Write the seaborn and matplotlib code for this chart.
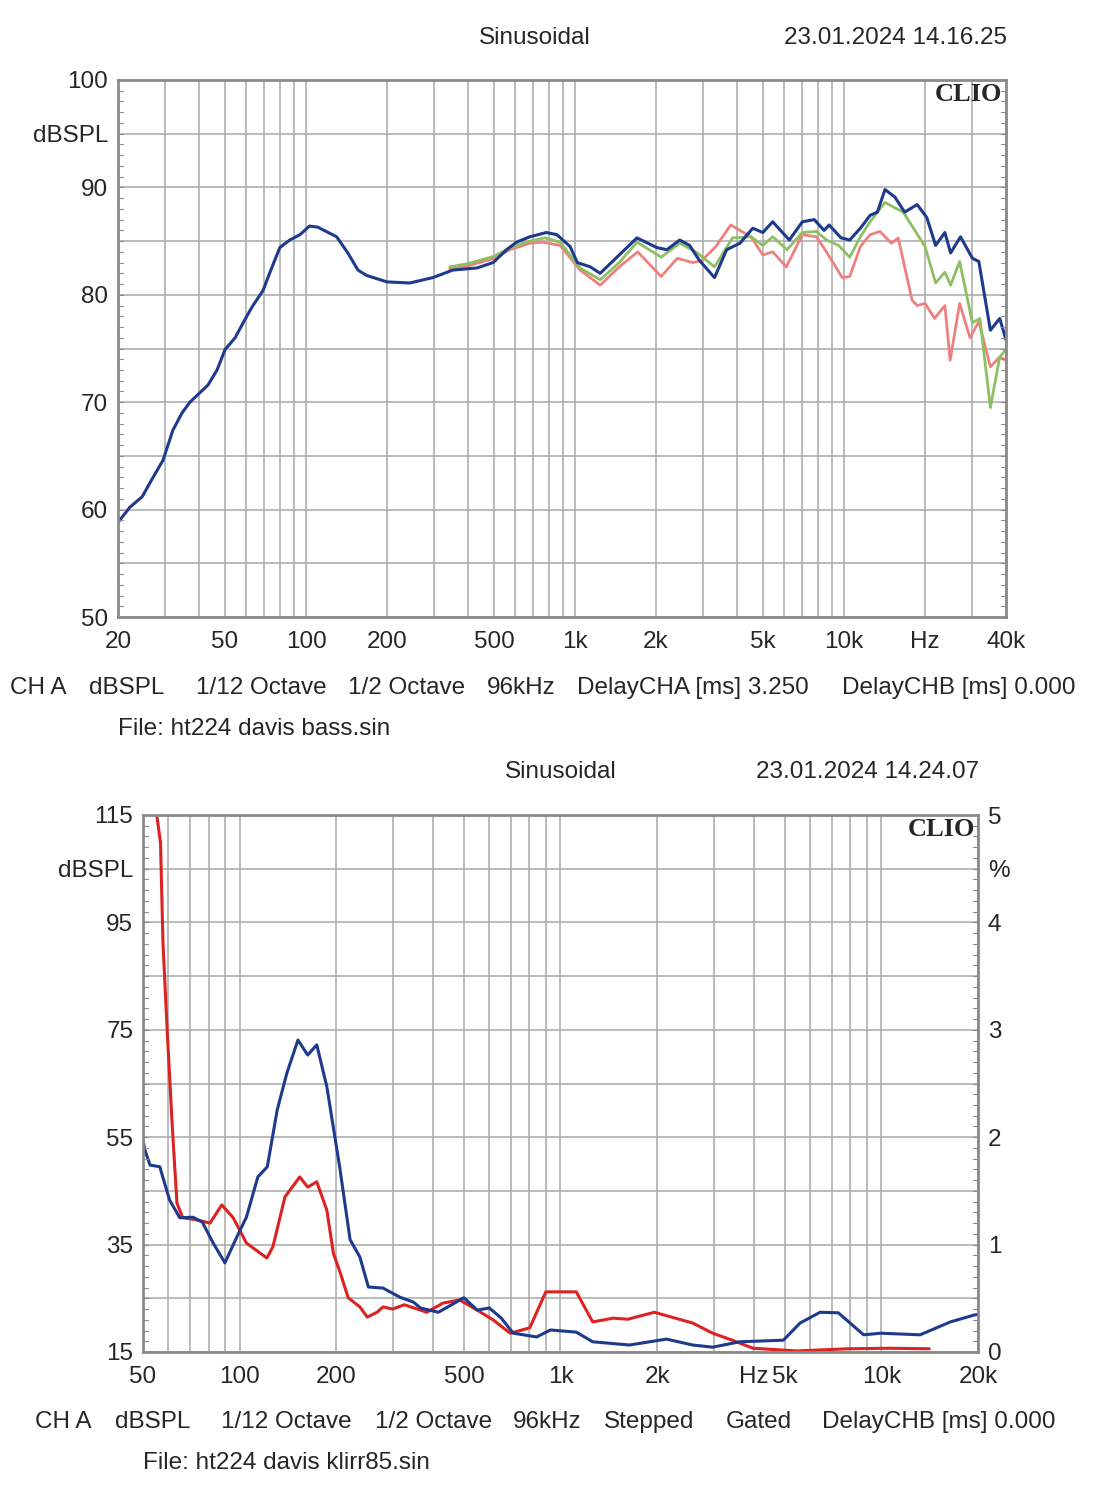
import numpy as np
import pandas as pd
import matplotlib
matplotlib.use("Agg")
import matplotlib.pyplot as plt
import seaborn as sns

# top chart: frequency response (Hz, dBSPL)
top_blue_f = [20, 22.1, 24.6, 27, 29.4, 32, 34.6, 37, 39.6, 43.2, 46.7, 50, 54.5, 58.4, 63.1, 69.2,
              74, 79.9, 87, 95, 103, 110.5, 130, 143, 156, 168, 200, 243, 296, 351, 432, 496, 557,
              606, 679, 782, 856, 958, 1020, 1140, 1240, 1431, 1700, 2012, 2195, 2450, 2667, 2900,
              3300, 3660, 4100, 4580, 4990, 5430, 6260, 7000, 7750, 8430, 8800, 9750, 10500, 11500,
              12500, 13300, 14200, 15450, 16800, 18700, 20300, 21900, 23700, 24900, 27100, 30000,
              31700, 35000, 37900, 40000]
top_blue_db = [58.8, 60.2, 61.2, 63.0, 64.6, 67.4, 69.0, 70.0, 70.7, 71.6, 73.0, 74.9, 76.0, 77.4,
               78.9, 80.4, 82.3, 84.4, 85.1, 85.6, 86.4, 86.3, 85.4, 83.9, 82.3, 81.8, 81.2, 81.1,
               81.6, 82.3, 82.5, 83.0, 84.2, 84.9, 85.4, 85.8, 85.6, 84.5, 83.0, 82.6, 82.0, 83.5,
               85.3, 84.4, 84.2, 85.1, 84.6, 83.2, 81.6, 84.2, 84.8, 86.2, 85.8, 86.8, 85.1, 86.8,
               87.0, 86.0, 86.5, 85.3, 85.1, 86.2, 87.4, 87.7, 89.8, 89.1, 87.7, 88.4, 87.2, 84.6,
               85.8, 83.9, 85.4, 83.4, 83.1, 76.7, 77.8, 75.8]

top_green_f = [342, 400, 502, 573, 679, 771, 880, 1045, 1240, 1460, 1700, 2090, 2450, 2850, 3300,
               3850, 4510, 4990, 5430, 6140, 7000, 7900, 8600, 9550, 10500, 11500, 12500, 14200,
               15450, 16600, 20000, 21900, 23700, 24900, 26900, 30000, 32000, 35000, 37900, 40000]
top_green_db = [82.6, 82.9, 83.6, 84.4, 85.0, 85.3, 84.9, 82.5, 81.4, 83.0, 84.9, 83.5, 84.8, 83.9,
                82.6, 85.3, 85.4, 84.6, 85.4, 84.2, 85.8, 85.9, 85.1, 84.6, 83.5, 85.4, 86.8, 88.6,
                88.1, 87.7, 84.5, 81.1, 82.1, 80.9, 83.1, 77.4, 77.8, 69.5, 74.2, 74.9]

top_red_f = [342, 400, 502, 573, 679, 760, 880, 1045, 1240, 1460, 1710, 2090, 2400, 2740, 2960,
             3340, 3790, 4100, 4510, 4990, 5430, 6100, 7000, 7900, 8600, 9850, 10500, 11500, 12500,
             13600, 15000, 15900, 17900, 18700, 20000, 21700, 23700, 24800, 26900, 29400, 31700,
             35000, 37900, 40000]
top_red_db = [82.4, 82.7, 83.4, 84.2, 84.8, 84.9, 84.6, 82.3, 80.9, 82.6, 84.0, 81.7, 83.4, 83.0,
              83.2, 84.5, 86.5, 86.0, 85.4, 83.7, 84.0, 82.6, 85.6, 85.4, 84.0, 81.6, 81.7, 84.5,
              85.6, 85.9, 84.8, 85.3, 79.5, 79.0, 79.2, 77.8, 79.0, 73.9, 79.2, 76.0, 77.5, 73.3,
              74.2, 73.9]

# bottom chart: distortion (Hz, dBSPL)
bot_blue_f = [50, 50.7, 52.6, 56.4, 60.5, 65.1, 71.5, 76.5, 82.7, 90, 98, 105, 114, 122, 131, 140.5,
              152, 163, 174, 187, 205, 221, 237, 252, 280, 316, 348, 366, 416, 500, 550, 600, 654,
              712, 843, 930, 1120, 1260, 1640, 2140, 2580, 2980, 3620, 4950, 5580, 6440, 7340,
              8800, 9950, 13200, 16400, 19500, 20000]
bot_blue_db = [54.5, 52.6, 49.8, 49.5, 43.3, 40.0, 40.1, 39.2, 35.3, 31.6, 36.4, 40.1, 47.6, 49.5,
               60.1, 67.0, 73.1, 70.3, 72.2, 64.4, 49.5, 35.9, 32.7, 27.1, 26.9, 25.2, 24.3, 23.2,
               22.4, 25.1, 22.8, 23.2, 21.3, 18.5, 17.8, 19.1, 18.7, 16.9, 16.3, 17.4, 16.3, 15.9,
               16.9, 17.2, 20.4, 22.4, 22.3, 18.2, 18.5, 18.2, 20.6, 21.9, 22.0]

bot_red_f = [55.3, 56.7, 57.7, 59.4, 61.7, 63.8, 66.5, 73.6, 80.9, 88, 95.5, 105, 121.6, 127,
             138.5, 154, 163, 174, 187, 196, 206, 218, 237, 250, 268, 280, 300, 326, 383, 430,
             485, 550, 616, 697, 802, 900, 1120, 1260, 1460, 1620, 1960, 2580, 2980, 3430, 3980,
             5450, 7870, 10600, 14100]
bot_red_db = [114.6, 109.8, 91.2, 75.5, 56.9, 42.7, 40.0, 39.6, 39.0, 42.4, 40.0, 35.3, 32.5,
              34.6, 43.9, 47.6, 45.7, 46.7, 41.4, 33.4, 29.7, 25.1, 23.4, 21.5, 22.4, 23.4, 23.0,
              23.8, 22.4, 24.1, 24.7, 22.8, 21.0, 18.5, 19.5, 26.2, 26.2, 20.6, 21.3, 21.1, 22.4,
              20.4, 18.5, 17.2, 15.7, 15.2, 15.6, 15.7, 15.6]

# axis ticks
top_xticks = [20, 50, 100, 200, 500, 1000, 2000, 5000, 10000, 20000, 40000]
top_xlabels = ["20", "50", "100", "200", "500", "1k", "2k", "5k", "10k", "Hz", "40k"]
top_yticks = [50, 60, 70, 80, 90, 95, 100]
top_ylabels = ["50", "60", "70", "80", "90", "dBSPL", "100"]
bot_xticks = [50, 100, 200, 500, 1000, 2000, 4000, 5000, 10000, 20000]
bot_xlabels = ["50", "100", "200", "500", "1k", "2k", "Hz", "5k", "10k", "20k"]
bot_yticks = [15, 35, 55, 75, 95, 105, 115]
bot_ylabels = ["15", "35", "55", "75", "95", "dBSPL", "115"]
bot_rticks = [0, 1, 2, 3, 4, 4.5, 5]
bot_rlabels = ["0", "1", "2", "3", "4", "%", "5"]

# footer rows (text, left x in px)
top_footer = [("CH A", 10), ("dBSPL", 89), ("1/12 Octave", 196), ("1/2 Octave", 348),
              ("96kHz", 487), ("DelayCHA [ms] 3.250", 577), ("DelayCHB [ms] 0.000", 842)]
bot_footer = [("CH A", 35), ("dBSPL", 115), ("1/12 Octave", 221), ("1/2 Octave", 375),
              ("96kHz", 513), ("Stepped", 604), ("Gated", 726), ("DelayCHB [ms] 0.000", 822)]

sns.set_style("white")
plt.rcParams['font.family'] = ['Liberation Sans', 'DejaVu Sans']

FS = 17.5
GRID = "#a8a8a8"
FRAME = "#8a8a8a"
W, H = 1099, 1500


def log_grid(lo, hi):
    vals = []
    for d in range(0, 6):
        for m in range(1, 10):
            v = m * 10 ** d
            if lo <= v <= hi:
                vals.append(v)
    return vals


def style_axes(ax, xlo, xhi, ylo, yhi, ystep, minor_step):
    ax.set_xscale("log")
    ax.set_xlim(xlo, xhi)
    ax.set_ylim(ylo, yhi)
    ax.set_xticks(log_grid(xlo, xhi), minor=True)
    ax.set_xticklabels([], minor=True)
    ax.set_yticks(np.arange(ylo, yhi + 0.01, ystep), minor=True)
    ax.grid(True, which="both", axis="both", color=GRID, linewidth=1.1)
    ax.tick_params(axis="x", which="both", length=0, pad=10, labelsize=FS)
    ax.tick_params(axis="y", which="both", length=0, pad=7, labelsize=FS)
    for s in ax.spines.values():
        s.set_color(FRAME)
        s.set_linewidth(2)
    ax.set_xlabel("")
    ax.set_ylabel("")
    # small inside ticks on both sides
    for y in np.arange(ylo, yhi + 0.01, minor_step):
        ax.plot([0, 0.006], [y, y], transform=ax.get_yaxis_transform(), color=FRAME, lw=0.8)
        ax.plot([0.994, 1], [y, y], transform=ax.get_yaxis_transform(), color=FRAME, lw=0.8)


def curve(ax, f, db, color, lw=2.0):
    df = pd.DataFrame({"f": f, "db": db})
    sns.lineplot(data=df, x="f", y="db", ax=ax, color=color, linewidth=lw, sort=False,
                 solid_joinstyle="round", solid_capstyle="round")


fig = plt.figure(figsize=(W / 100, H / 100), dpi=100)

# ---------------- top chart ----------------
ax1 = fig.add_axes([118 / W, 1 - 617 / H, 888 / W, 537 / H])
curve(ax1, top_red_f, top_red_db, "#ef8080")
curve(ax1, top_green_f, top_green_db, "#8cc063")
curve(ax1, top_blue_f, top_blue_db, "#1e3a8c", 2.2)
style_axes(ax1, 20, 40000, 50, 100, 5, 1)
ax1.set_xticks(top_xticks)
ax1.set_xticklabels(top_xlabels)
ax1.set_yticks(top_yticks)
ax1.set_yticklabels(top_ylabels)
ax1.text(0.996, 0.995, "CLIO", transform=ax1.transAxes, ha="right", va="top",
         fontsize=19, fontweight="bold", family="Liberation Serif")

fig.text(535 / W, 1 - 38 / H, "Sinusoidal", ha="center", va="center", fontsize=FS)
fig.text(895 / W, 1 - 38 / H, "23.01.2024 14.16.25", ha="center", va="center", fontsize=FS)
for txt, x in top_footer:
    fig.text(x / W, 1 - 688 / H, txt, ha="left", va="center", fontsize=FS)
fig.text(118 / W, 1 - 729 / H, "File: ht224 davis bass.sin", ha="left", va="center", fontsize=FS)

# ---------------- bottom chart ----------------
ax2 = fig.add_axes([143 / W, 1 - 1352 / H, 835 / W, 537 / H])
curve(ax2, bot_red_f, bot_red_db, "#dd2222", 2.2)
curve(ax2, bot_blue_f, bot_blue_db, "#1e3a8c", 2.2)
style_axes(ax2, 50, 20000, 15, 115, 10, 2)
ax2.set_xticks(bot_xticks)
ax2.set_xticklabels(bot_xlabels)
ax2.set_yticks(bot_yticks)
ax2.set_yticklabels(bot_ylabels)
ax2r = ax2.twinx()
ax2r.set_ylim(0, 5)
ax2r.set_yticks(bot_rticks)
ax2r.set_yticklabels(bot_rlabels)
ax2r.tick_params(axis="y", length=0, pad=7, labelsize=FS)
for s in ax2r.spines.values():
    s.set_visible(False)
ax2.text(0.996, 0.995, "CLIO", transform=ax2.transAxes, ha="right", va="top",
         fontsize=19, fontweight="bold", family="Liberation Serif")

fig.text(561 / W, 1 - 772 / H, "Sinusoidal", ha="center", va="center", fontsize=FS)
fig.text(868 / W, 1 - 772 / H, "23.01.2024 14.24.07", ha="center", va="center", fontsize=FS)
for txt, x in bot_footer:
    fig.text(x / W, 1 - 1422 / H, txt, ha="left", va="center", fontsize=FS)
fig.text(143 / W, 1 - 1463 / H, "File: ht224 davis klirr85.sin", ha="left", va="center", fontsize=FS)

fig.savefig("out.png", dpi=100, facecolor="white")
